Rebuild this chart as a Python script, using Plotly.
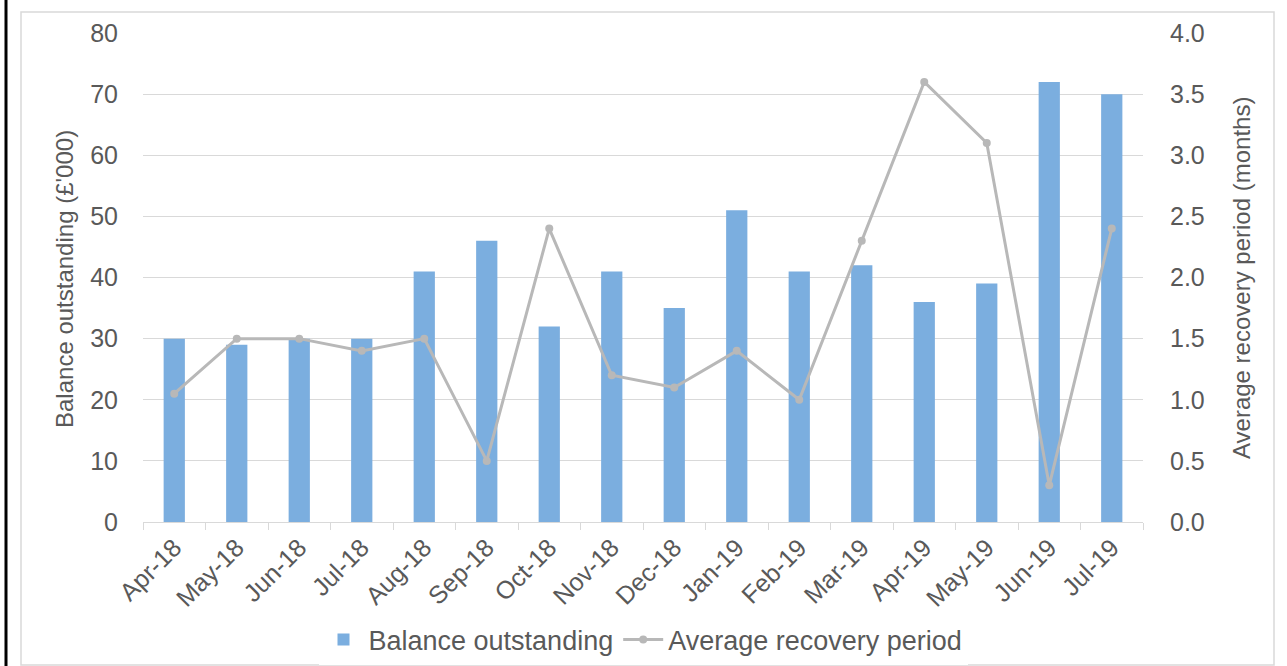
import plotly.graph_objects as go

months = ["Apr-18", "May-18", "Jun-18", "Jul-18", "Aug-18", "Sep-18", "Oct-18", "Nov-18",
          "Dec-18", "Jan-19", "Feb-19", "Mar-19", "Apr-19", "May-19", "Jun-19", "Jul-19"]
balance = [30, 29, 30, 30, 41, 46, 32, 41, 35, 51, 41, 42, 36, 39, 72, 70]
recovery = [1.05, 1.5, 1.5, 1.4, 1.5, 0.5, 2.4, 1.2, 1.1, 1.4, 1.0, 2.3, 3.6, 3.1, 0.3, 2.4]

TXT = "#595959"
FONT = "Liberation Sans, Arial, sans-serif"
W, H = 1287, 666
L, R, T, B = 143, 144, 33, 144
PW, PH = W - L - R, H - T - B


def px_x(px):
    return (px - L) / PW


def px_y(py):
    return (H - B - py) / PH


fig = go.Figure()
fig.add_trace(go.Bar(x=months, y=balance, name="Balance outstanding",
                     marker=dict(color="#7BAEDF", line=dict(width=0)), yaxis="y"))
fig.add_trace(go.Scatter(x=months, y=recovery, name="Average recovery period",
                         mode="lines+markers", yaxis="y2",
                         line=dict(color="#B8B8B8", width=3),
                         marker=dict(color="#B8B8B8", size=8)))

fig.update_layout(
    width=W, height=H,
    margin=dict(l=L, r=R, t=T, b=B, autoexpand=False),
    paper_bgcolor="white", plot_bgcolor="white",
    font=dict(family=FONT, color=TXT, size=24),
    bargap=0.66,
    showlegend=True,
    legend=dict(orientation="h", x=0.5, xanchor="center", y=px_y(640), yanchor="middle",
                font=dict(size=27, color=TXT), itemwidth=40, traceorder="normal"),
    xaxis=dict(type="category", showgrid=False, showline=True, linecolor="#D9D9D9", linewidth=1,
               ticks="outside", tickson="boundaries", ticklen=7, tickcolor="#D9D9D9",
               tickangle=-45, tickfont=dict(size=25, color=TXT), zeroline=False,
               range=[-0.5, 15.5]),
    yaxis=dict(range=[0, 80], dtick=10, showgrid=True, gridcolor="#D9D9D9", gridwidth=1,
               zeroline=False, showline=False, ticks="", ticklabelstandoff=24,
               tickfont=dict(size=25, color=TXT)),
    yaxis2=dict(range=[0, 4], dtick=0.5, tickformat=".1f", overlaying="y", side="right",
                showgrid=False, zeroline=False, showline=False, ticks="",
                ticklabelstandoff=26, tickfont=dict(size=25, color=TXT)),
    annotations=[
        dict(text="Balance outstanding (£'000)", textangle=-90, xref="paper", yref="paper",
             x=px_x(64), y=px_y(279), xanchor="center", yanchor="middle", showarrow=False,
             font=dict(size=24, color=TXT)),
        dict(text="Average recovery period (months)", textangle=-90, xref="paper", yref="paper",
             x=px_x(1241), y=px_y(278), xanchor="center", yanchor="middle", showarrow=False,
             font=dict(size=24, color=TXT)),
    ],
    shapes=[
        dict(type="rect", xref="paper", yref="paper", x0=px_x(21), x1=px_x(1274),
             y0=px_y(665), y1=px_y(12), line=dict(color="#D9D9D9", width=1.5), layer="below"),
        dict(type="line", xref="paper", yref="paper", x0=px_x(6), x1=px_x(6),
             y0=px_y(0), y1=px_y(666), line=dict(color="black", width=3)),
    ],
)

fig.write_html("out.html")
